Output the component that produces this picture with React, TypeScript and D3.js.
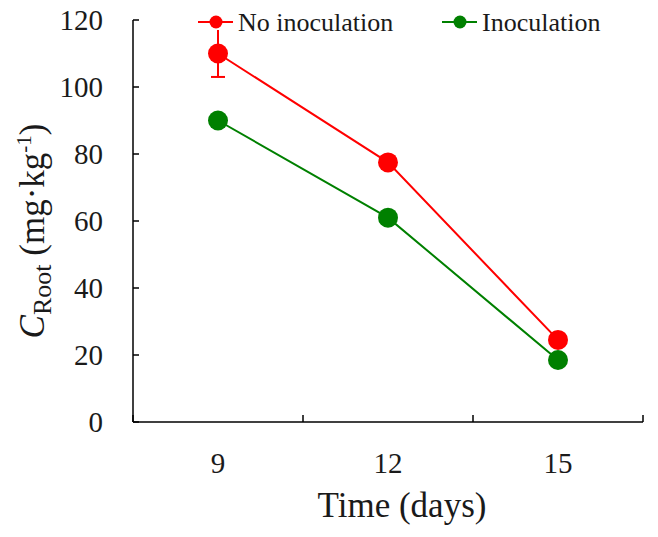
import React from "react";
import * as d3 from "d3";

const categories = ["9", "12", "15"];
const noInoc = [110, 77.5, 24.5];
const noInocErr = [7, 0, 0];
const inoc = [90, 61, 18.5];
const inocErr = [0, 0, 0];
const yTicks = [0, 20, 40, 60, 80, 100, 120];

const W = 658, H = 537;
const M = { left: 133, right: 643, top: 20, bottom: 422 };

export default function App() {
  const x = d3.scaleBand<string>().domain(categories).range([M.left, M.right]);
  const y = d3.scaleLinear().domain([0, 120]).range([M.bottom, M.top]);
  const cx = (c: string) => (x(c) as number) + x.bandwidth() / 2;
  const line = d3.line<number>().x((_, i) => cx(categories[i])).y((d) => y(d));
  const font = "'Liberation Serif', 'Times New Roman', serif";
  const ink = "#1a1a1a";
  const series = [
    { name: "No inoculation", vals: noInoc, err: noInocErr, color: "#ff0000", lx: 216 },
    { name: "Inoculation", vals: inoc, err: inocErr, color: "#008000", lx: 460 },
  ];
  const boundaries = [M.left, ...categories.map((c) => (x(c) as number) + x.bandwidth())];
  return (
    <svg width={W} height={H} style={{ position: "absolute", left: 0, top: 0, background: "#fff", fontFamily: font }}>
      {/* axes */}
      <line x1={M.left} x2={M.left} y1={M.top} y2={M.bottom} stroke="#000" strokeWidth={1.5} />
      <line x1={M.left} x2={M.right} y1={M.bottom} y2={M.bottom} stroke="#000" strokeWidth={1.5} />
      {yTicks.map((t) => (
        <g key={t}>
          <line x1={M.left} x2={M.left + 6} y1={y(t)} y2={y(t)} stroke="#000" strokeWidth={1.5} />
          <text x={M.left - 30} y={y(t)} dy="0.33em" textAnchor="end" fontSize={29} fill={ink}>{t}</text>
        </g>
      ))}
      {boundaries.map((b, i) => (
        <line key={i} x1={b} x2={b} y1={M.bottom} y2={M.bottom - 7} stroke="#000" strokeWidth={1.5} />
      ))}
      {categories.map((c) => (
        <text key={c} x={cx(c)} y={473} textAnchor="middle" fontSize={29} fill={ink}>{c}</text>
      ))}
      <text x={402} y={517} textAnchor="middle" fontSize={35} fill={ink}>Time (days)</text>
      <text transform="translate(44,231) rotate(-90)" textAnchor="middle" fontSize={35} fill={ink}>
        <tspan fontStyle="italic">C</tspan>
        <tspan fontSize={26} dy={7}>Root</tspan>
        <tspan dy={-7}> (mg·kg</tspan>
        <tspan fontSize={21} dy={-13}>-1</tspan>
        <tspan dy={13}>)</tspan>
      </text>
      {/* series */}
      {series.map((s) => (
        <g key={s.name}>
          <path d={line(s.vals) || ""} fill="none" stroke={s.color} strokeWidth={2} />
          {s.vals.map((v, i) =>
            s.err[i] > 0 ? (
              <g key={"e" + i}>
                <line x1={cx(categories[i])} x2={cx(categories[i])} y1={y(v - s.err[i])} y2={y(v + s.err[i])} stroke={s.color} strokeWidth={2} />
                <line x1={cx(categories[i]) - 7} x2={cx(categories[i]) + 7} y1={y(v - s.err[i])} y2={y(v - s.err[i])} stroke={s.color} strokeWidth={2} />
              </g>
            ) : null
          )}
          {s.vals.map((v, i) => (
            <circle key={i} cx={cx(categories[i])} cy={y(v)} r={10} fill={s.color} />
          ))}
          <line x1={s.lx - 18} x2={s.lx + 17} y1={22} y2={22} stroke={s.color} strokeWidth={2} />
          <circle cx={s.lx} cy={22} r={6.5} fill={s.color} />
          <text x={s.lx + 22} y={31} fontSize={26} fill={ink}>{s.name}</text>
        </g>
      ))}
    </svg>
  );
}
